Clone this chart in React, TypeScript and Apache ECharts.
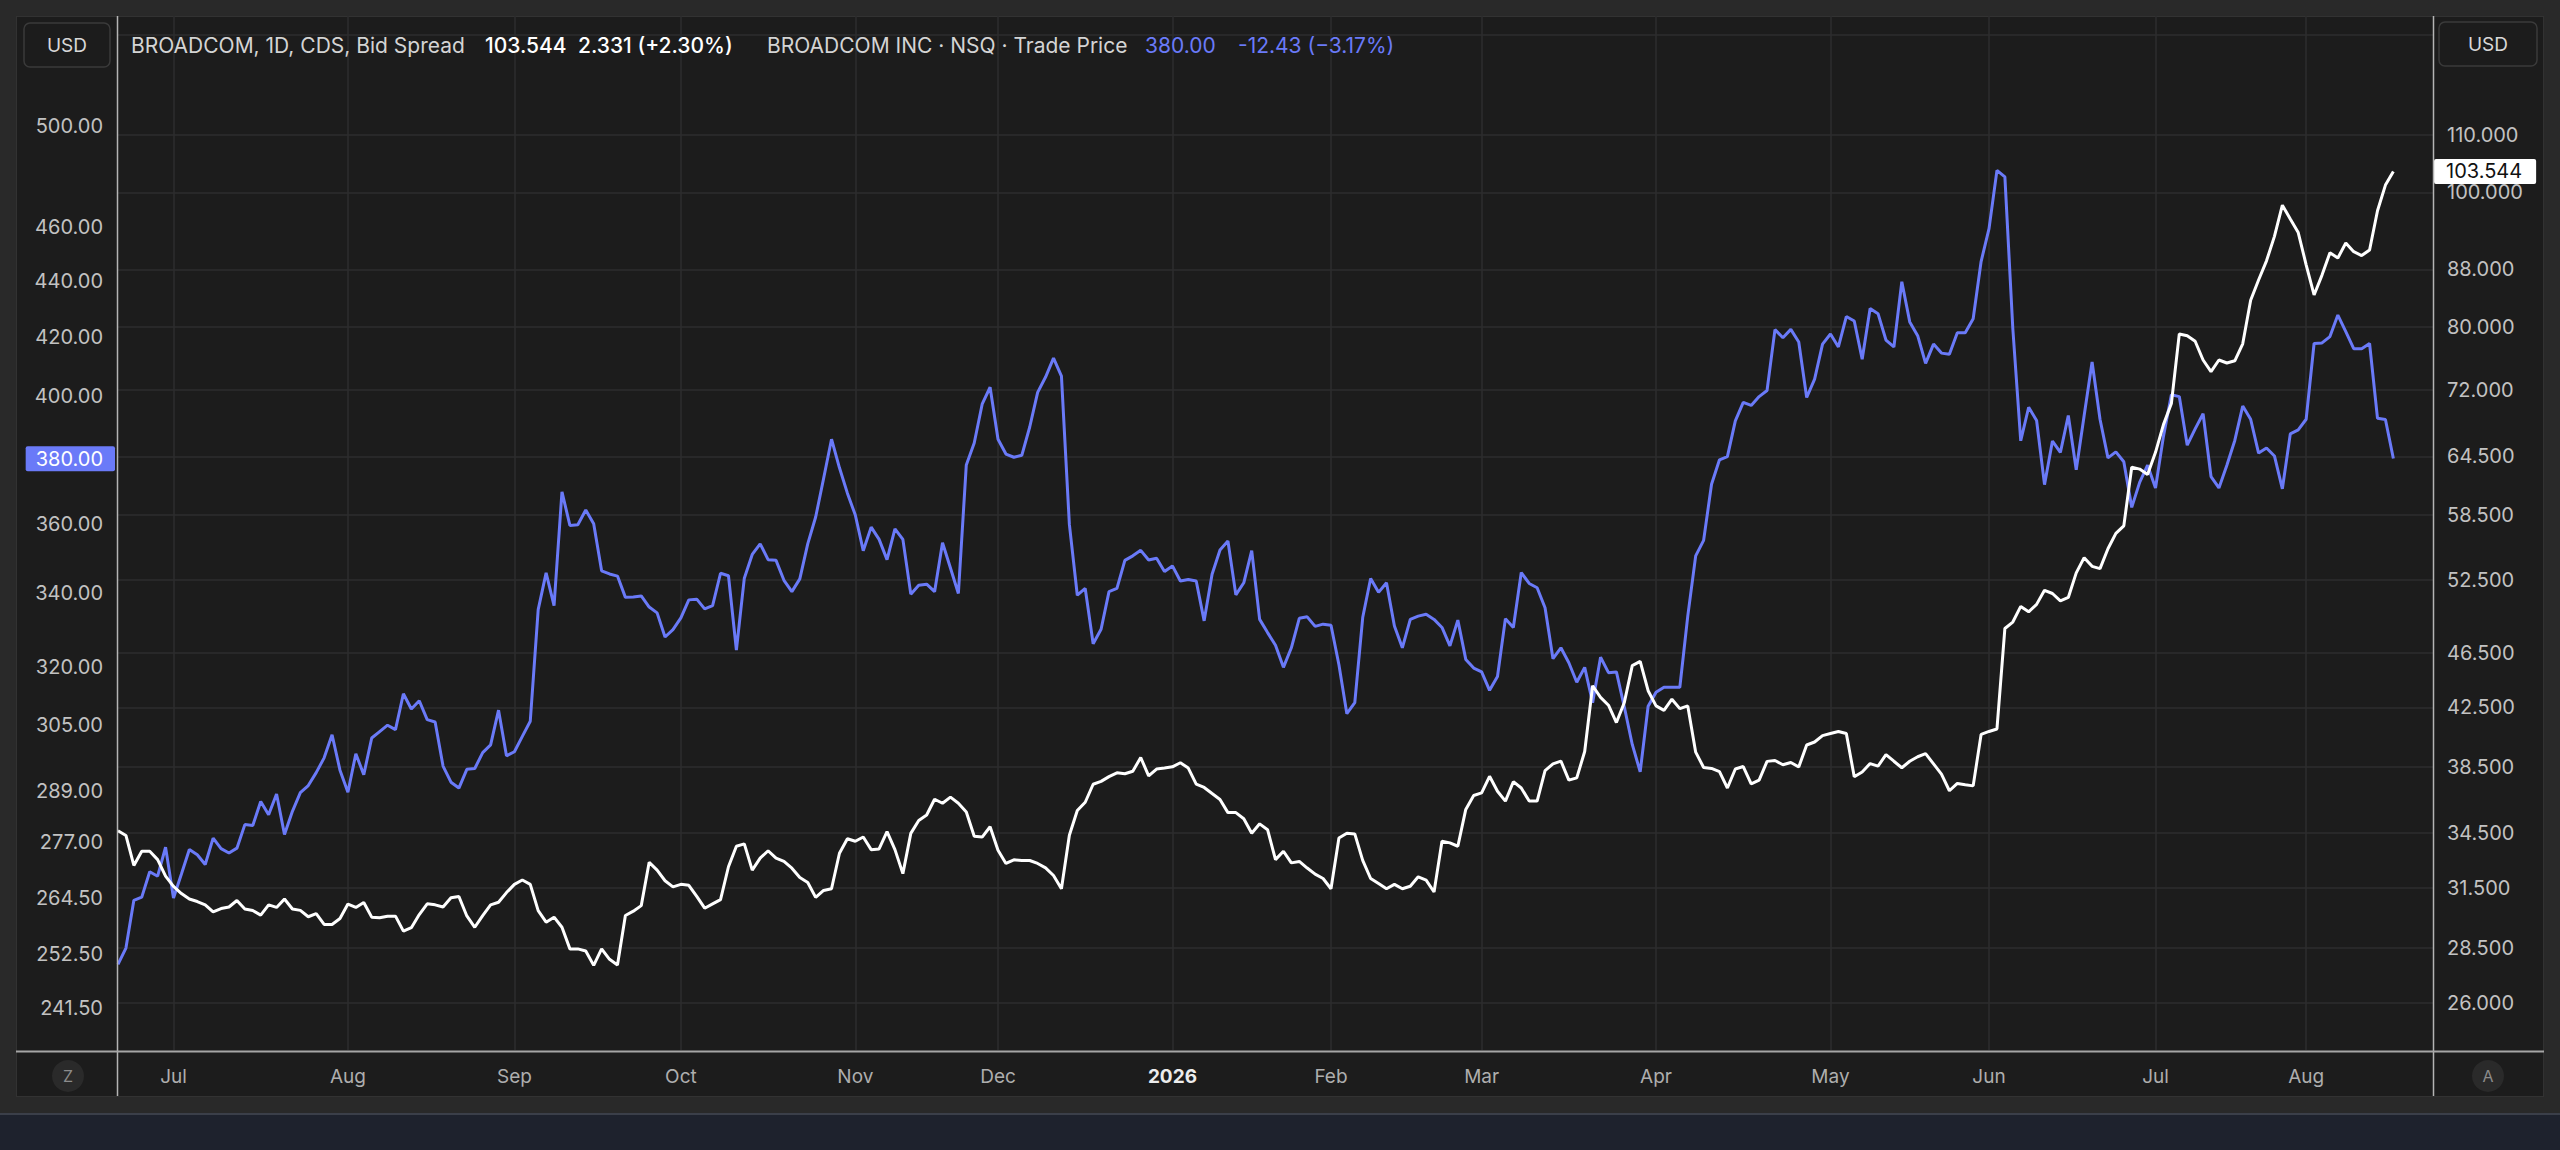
import React, { useEffect, useRef } from 'react';
import * as echarts from 'echarts';

// ---- x axis: trading-day slots, month starts ----
const monthLabels = ['Jul', 'Aug', 'Sep', 'Oct', 'Nov', 'Dec', '2026', 'Feb', 'Mar', 'Apr', 'May', 'Jun', 'Jul', 'Aug'];
const monthStartIdx = [7, 29, 50, 71, 93, 111, 133, 153, 172, 194, 216, 236, 257, 276];
const totalSlots = 293;

// ---- BROADCOM INC · NSQ · Trade Price (left axis) ----
const tradePrice2025 = [
  250.4, 253.8, 264.0, 264.7, 270.3, 269.3, 275.8,
  264.5, 269.8, 275.3, 274.1, 271.9, 277.9, 275.5, 274.5, 275.6, 281.0, 280.8, 286.4, 283.3, 288.2, 278.7, 284.1, 288.5, 290.2, 293.3, 296.9, 302.6, 293.9,
  288.6, 297.9, 292.8, 301.8, 303.4, 305.0, 303.9, 313.0, 309.1, 311.2, 306.4, 305.8, 294.9, 291.0, 289.6, 294.1, 294.3, 298.2, 300.1, 308.8, 297.4,
  298.4, 302.2, 306.0, 335.5, 345.8, 336.6, 369.7, 359.6, 359.8, 364.2, 360.1, 346.4, 345.5, 344.9, 338.9, 339.0, 339.3, 336.2, 334.6, 328.0, 330.0,
  333.2, 338.2, 338.4, 335.7, 336.6, 345.7, 345.0, 324.5, 344.3, 351.1, 354.2, 349.6, 349.4, 343.7, 340.5, 344.1, 354.2, 362.1, 373.8, 386.1, 377.1, 369.3,
  362.7, 352.2, 359.1, 355.5, 349.6, 358.6, 355.5, 339.8, 342.3, 342.6, 340.5, 354.5, 347.2, 340.0, 378.0, 384.9, 397.4, 403.0,
  386.1, 381.4, 380.4, 381.0, 390.0, 401.3, 406.4, 412.8, 406.7, 359.9, 339.5, 341.4, 326.2, 330.1, 340.5, 341.4, 349.4, 350.7, 352.3, 349.5, 350.0, 346.2,
];
const tradePrice2026 = [
  347.8, 343.5, 343.9, 343.5, 332.4, 345.4, 352.4, 355.0, 339.6, 343.0, 352.2, 332.8, 329.2, 325.8, 319.9, 325.1, 333.1, 333.5, 330.9, 331.5,
  331.2, 320.6, 307.9, 310.7, 333.3, 344.2, 340.3, 343.0, 331.0, 325.1, 332.8, 333.7, 334.2, 332.8, 330.6, 325.6, 332.6, 322.0, 319.7,
  318.7, 313.9, 317.5, 333.0, 330.6, 345.9, 342.8, 341.6, 336.0, 322.2, 325.1, 321.1, 316.0, 319.9, 310.7, 322.6, 318.5, 318.7, 309.6, 300.2, 293.5, 309.8,
  313.4, 314.7, 314.7, 314.7, 333.7, 350.7, 355.2, 372.0, 379.6, 380.6, 392.0, 398.0, 397.0, 399.9, 401.9, 422.6, 419.8, 422.7, 418.3, 399.6, 405.7, 417.6,
  421.1, 416.6, 427.2, 425.6, 412.4, 430.0, 428.2, 419.0, 416.6, 439.6, 425.3, 420.5, 411.0, 417.6, 414.5, 414.1, 421.5, 421.5, 426.4, 447.0,
  459.3, 481.9, 479.3, 423.0, 385.6, 396.4, 392.1, 371.9, 385.5, 381.9, 393.7, 376.5, 393.7, 411.5, 392.5, 380.2, 382.1, 379.0, 365.0, 372.6, 377.9,
  370.9, 387.0, 400.5, 399.9, 384.2, 389.4, 394.3, 374.4, 370.9, 377.9, 385.7, 396.8, 392.5, 381.7, 383.3, 380.8, 370.6, 387.8, 389.1,
  392.5, 417.8, 418.0, 420.2, 427.7, 421.9, 416.0, 416.0, 417.8, 392.8, 392.43, 380.0,
];

// ---- BROADCOM, 1D, CDS, Bid Spread (right axis) ----
const bidSpread2025 = [
  34.62, 34.35, 32.68, 33.46, 33.46, 33.0, 32.11,
  31.56, 31.19, 30.91, 30.78, 30.61, 30.25, 30.42, 30.5, 30.83, 30.4, 30.32, 30.09, 30.61, 30.48, 30.91, 30.4, 30.33, 30.01, 30.17, 29.63, 29.63, 29.92,
  30.65, 30.48, 30.73, 29.99, 29.96, 30.04, 30.04, 29.3, 29.47, 30.12, 30.66, 30.61, 30.5, 30.97, 31.04, 30.05, 29.49, 30.07, 30.61, 30.74, 31.24,
  31.67, 31.9, 31.67, 30.32, 29.74, 29.99, 29.49, 28.45, 28.45, 28.35, 27.68, 28.45, 27.96, 27.7, 30.07, 30.29, 30.57, 32.85, 32.43, 31.86, 31.54,
  31.67, 31.62, 31.04, 30.44, 30.66, 30.88, 32.61, 33.74, 33.87, 32.43, 33.08, 33.49, 33.08, 32.9, 32.53, 32.03, 31.77, 30.99, 31.35, 31.44, 33.35, 34.16,
  34.02, 34.26, 33.55, 33.59, 34.57, 33.55, 32.24, 34.47, 35.22, 35.54, 36.48, 36.24, 36.61, 36.24, 35.72, 34.31, 34.26, 34.85,
  33.52, 32.79, 32.99, 32.95, 32.95, 32.79, 32.55, 32.14, 31.44, 34.36, 35.8, 36.3, 37.4, 37.58, 37.88, 38.12, 38.06, 38.22, 39.1, 37.92, 38.36, 38.42,
];
const bidSpread2026 = [
  38.5, 38.76, 38.42, 37.41, 37.2, 36.83, 36.47, 35.68, 35.68, 35.32, 34.48, 35.02, 34.68, 33.0, 33.46, 32.82, 32.9, 32.54, 32.21, 31.98,
  31.44, 34.21, 34.48, 34.44, 32.96, 31.98, 31.71, 31.44, 31.67, 31.44, 31.57, 32.07, 31.89, 31.27, 34.02, 33.93, 33.74, 35.87, 36.71,
  36.87, 37.9, 36.97, 36.37, 37.56, 37.17, 36.37, 36.37, 38.26, 38.69, 38.87, 37.66, 37.8, 39.49, 44.05, 43.21, 42.65, 41.44, 42.84, 45.55, 45.87, 43.69,
  42.6, 42.29, 43.08, 42.41, 42.6, 39.45, 38.46, 38.4, 38.2, 37.17, 38.36, 38.52, 37.42, 37.66, 38.85, 38.91, 38.63, 38.78, 38.49, 39.92, 40.12, 40.55,
  40.69, 40.83, 40.69, 37.87, 38.17, 38.71, 38.54, 39.29, 38.86, 38.44, 38.86, 39.15, 39.35, 38.69, 38.04, 37.0, 37.45, 37.37, 37.3, 40.63,
  40.83, 41.0, 48.45, 48.97, 50.26, 49.81, 50.43, 51.62, 51.35, 50.73, 51.01, 53.14, 54.5, 53.72, 53.52, 55.31, 56.75, 57.46, 63.34, 63.14, 62.57,
  64.92, 67.98, 70.4, 79.04, 78.8, 78.08, 75.69, 74.25, 75.69, 75.31, 75.59, 77.75, 83.58, 86.45, 89.25, 92.95, 97.89, 95.68, 93.54,
  88.66, 84.33, 87.16, 90.45, 89.67, 91.93, 90.62, 90.03, 90.86, 97.0, 101.213, 103.544,
];

// ---- axis tick labels ----
const priceTicks = [241.5, 252.5, 264.5, 277, 289, 305, 320, 340, 360, 400, 420, 440, 460, 500];
const spreadTicks = [26, 28.5, 31.5, 34.5, 38.5, 42.5, 46.5, 52.5, 58.5, 64.5, 72, 80, 88, 100, 110];
const spreadGridExtra = [130];
const priceRange = [233.35, 547.3];
const spreadRange = [24.05, 134.05];

const BLUE = '#6a7af8';
const FONT = 'Inter, "Noto Sans", sans-serif';
const GRID_COLOR = '#2c2c2e';

export default function App() {
  const ref = useRef<HTMLDivElement>(null);

  useEffect(() => {
    if (!ref.current) return;
    const chart = echarts.init(ref.current, null, { renderer: 'svg' });

    const price = tradePrice2025.concat(tradePrice2026);
    const spread = bidSpread2025.concat(bidSpread2026);
    const categories = Array.from({ length: totalSlots }, (_, i) => String(i));
    const startSet = new Set(monthStartIdx);

    const lastPrice = price[price.length - 1];
    const prevPrice = price[price.length - 2];
    const lastSpread = spread[spread.length - 1];
    const prevSpread = spread[spread.length - 2];
    const dPrice = lastPrice - prevPrice;
    const dSpread = lastSpread - prevSpread;
    const pPrice = (dPrice / prevPrice) * 100;
    const pSpread = (dSpread / prevSpread) * 100;
    const sgn = (v: number) => (v >= 0 ? '+' : '\u2212');

    const headerY = 45;
    const headerItems = [
      { x: 131, text: 'BROADCOM, 1D, CDS, Bid Spread', fill: '#d4d4d4', weight: 'normal' },
      { x: 485, text: lastSpread.toFixed(3), fill: '#ffffff', weight: 500 },
      { x: 578, text: `${dSpread.toFixed(3)} (${sgn(pSpread)}${Math.abs(pSpread).toFixed(2)}%)`, fill: '#ffffff', weight: 500 },
      { x: 767, text: 'BROADCOM INC \u00b7 NSQ \u00b7 Trade Price', fill: '#d4d4d4', weight: 'normal' },
      { x: 1145, text: lastPrice.toFixed(2), fill: BLUE, weight: 'normal' },
      { x: 1238, text: `${dPrice.toFixed(2)} (${sgn(pPrice)}${Math.abs(pPrice).toFixed(2)}%)`, fill: BLUE, weight: 'normal' },
    ];

    const graphic: any[] = [
      // axis separators
      { type: 'line', z: 50, shape: { x1: 117.5, y1: 16, x2: 117.5, y2: 1096 }, style: { stroke: '#b4b4b4', lineWidth: 1.5 } },
      { type: 'line', z: 50, shape: { x1: 2433.5, y1: 16, x2: 2433.5, y2: 1096 }, style: { stroke: '#b4b4b4', lineWidth: 1.5 } },
      { type: 'line', z: 50, shape: { x1: 16, y1: 1051.5, x2: 2544, y2: 1051.5 }, style: { stroke: '#a6a6a6', lineWidth: 2 } },
      // USD boxes
      { type: 'rect', z: 50, shape: { x: 24, y: 23, width: 86, height: 44, r: 6 }, style: { fill: '#1c1c1c', stroke: '#3a3a3a', lineWidth: 1.5 } },
      { type: 'text', z: 51, x: 67, y: 45, style: { text: 'USD', fill: '#d8d8d8', fontSize: 19, fontFamily: FONT, align: 'center', verticalAlign: 'middle' } },
      { type: 'rect', z: 50, shape: { x: 2439, y: 22, width: 98, height: 44, r: 6 }, style: { fill: '#1c1c1c', stroke: '#3a3a3a', lineWidth: 1.5 } },
      { type: 'text', z: 51, x: 2488, y: 44, style: { text: 'USD', fill: '#d8d8d8', fontSize: 19, fontFamily: FONT, align: 'center', verticalAlign: 'middle' } },
      // Z / A buttons
      { type: 'circle', z: 50, shape: { cx: 68, cy: 1076, r: 16 }, style: { fill: '#2a2a2a' } },
      { type: 'text', z: 51, x: 68, y: 1076, style: { text: 'Z', fill: '#8c8c8c', fontSize: 16, fontFamily: FONT, align: 'center', verticalAlign: 'middle' } },
      { type: 'circle', z: 50, shape: { cx: 2488, cy: 1076, r: 16 }, style: { fill: '#2a2a2a' } },
      { type: 'text', z: 51, x: 2488, y: 1076, style: { text: 'A', fill: '#8c8c8c', fontSize: 16, fontFamily: FONT, align: 'center', verticalAlign: 'middle' } },
      ...headerItems.map((h) => ({
        type: 'text', z: 51, x: h.x, y: headerY,
        style: { text: h.text, fill: h.fill, fontSize: 21, fontWeight: h.weight, fontFamily: FONT, align: 'left', verticalAlign: 'middle' },
      })),
    ];

    const option: any = {
      animation: false,
      backgroundColor: 'transparent',
      textStyle: { fontFamily: FONT },
      grid: { left: 118, right: 127, top: 16, bottom: 100, containLabel: false },
      xAxis: {
        type: 'category',
        data: categories,
        boundaryGap: false,
        axisLine: { show: false },
        axisTick: { show: false },
        axisLabel: {
          interval: (i: number) => startSet.has(i),
          formatter: (v: string) => {
            const k = monthStartIdx.indexOf(Number(v));
            if (k < 0) return '';
            const lab = monthLabels[k];
            return /^\d+$/.test(lab) ? `{y|${lab}}` : lab;
          },
          color: '#aeaeae',
          fontSize: 19,
          fontFamily: FONT,
          margin: 17,
          rich: { y: { fontWeight: 'bold', color: '#ececec', fontSize: 19, fontFamily: FONT } },
        },
        splitLine: { show: true, interval: (i: number) => startSet.has(i), lineStyle: { color: GRID_COLOR, width: 1.5 } },
      },
      yAxis: [
        {
          type: 'value',
          position: 'left',
          min: Math.log(priceRange[0]),
          max: Math.log(priceRange[1]),
          axisLine: { show: false },
          axisTick: { show: false },
          splitLine: { show: false },
          axisLabel: {
            customValues: priceTicks.map(Math.log),
            formatter: (v: number) => Math.exp(v).toFixed(2),
            color: '#c2c2c2',
            fontSize: 20,
            fontFamily: FONT,
            margin: 15,
          },
        },
        {
          type: 'value',
          position: 'right',
          min: Math.log(spreadRange[0]),
          max: Math.log(spreadRange[1]),
          axisLine: { show: false },
          axisTick: { show: false, customValues: spreadTicks.concat(spreadGridExtra).map(Math.log) },
          splitLine: { show: true, lineStyle: { color: GRID_COLOR, width: 1.5 } },
          axisLabel: {
            customValues: spreadTicks.map(Math.log),
            formatter: (v: number) => Math.exp(v).toFixed(3),
            color: '#c2c2c2',
            fontSize: 20,
            fontFamily: FONT,
            margin: 14,
          },
        },
      ],
      series: [
        {
          name: 'BROADCOM INC · NSQ · Trade Price',
          type: 'line',
          yAxisIndex: 0,
          data: price.map(Math.log),
          symbol: 'none',
          showSymbol: false,
          lineStyle: { color: BLUE, width: 3 },
          itemStyle: { color: BLUE },
          markLine: {
            silent: true,
            symbol: ['none', 'none'],
            lineStyle: { color: 'rgba(0,0,0,0)', width: 1 },
            label: {
              show: true, position: 'start', distance: 3,
              formatter: lastPrice.toFixed(2),
              color: '#ffffff', backgroundColor: BLUE, borderRadius: 2,
              padding: [3, 12, 2, 10], fontSize: 20, fontFamily: FONT,
            },
            data: [{ yAxis: Math.log(lastPrice) }],
          },
        },
        {
          name: 'BROADCOM, 1D, CDS, Bid Spread',
          type: 'line',
          yAxisIndex: 1,
          data: spread.map(Math.log),
          symbol: 'none',
          showSymbol: false,
          lineStyle: { color: '#ffffff', width: 3 },
          itemStyle: { color: '#ffffff' },
          markLine: {
            silent: true,
            symbol: ['none', 'none'],
            lineStyle: { color: 'rgba(0,0,0,0)', width: 1 },
            label: {
              show: true, position: 'end', distance: 1,
              formatter: lastSpread.toFixed(3),
              color: '#111111', backgroundColor: '#ffffff', borderRadius: 2,
              padding: [3, 14, 2, 12], fontSize: 20, fontFamily: FONT,
            },
            data: [{ yAxis: Math.log(lastSpread) }],
          },
        },
      ],
      graphic,
    };

    chart.setOption(option);
    return () => chart.dispose();
  }, []);

  return (
    <div style={{ position: 'fixed', left: 0, top: 0, width: 2560, height: 1150, background: '#292929', overflow: 'hidden' }}>
      <div style={{ position: 'absolute', left: 16, top: 16, width: 2528, height: 1081, background: '#1c1c1c', border: '1px solid #323232', boxSizing: 'border-box' }} />
      <div style={{ position: 'absolute', left: 0, top: 1113, width: 2560, height: 37, background: '#1e222d', borderTop: '2px solid #3b3f49', boxSizing: 'border-box' }} />
      <div ref={ref} style={{ position: 'absolute', left: 0, top: 0, width: 2560, height: 1150 }} />
    </div>
  );
}
